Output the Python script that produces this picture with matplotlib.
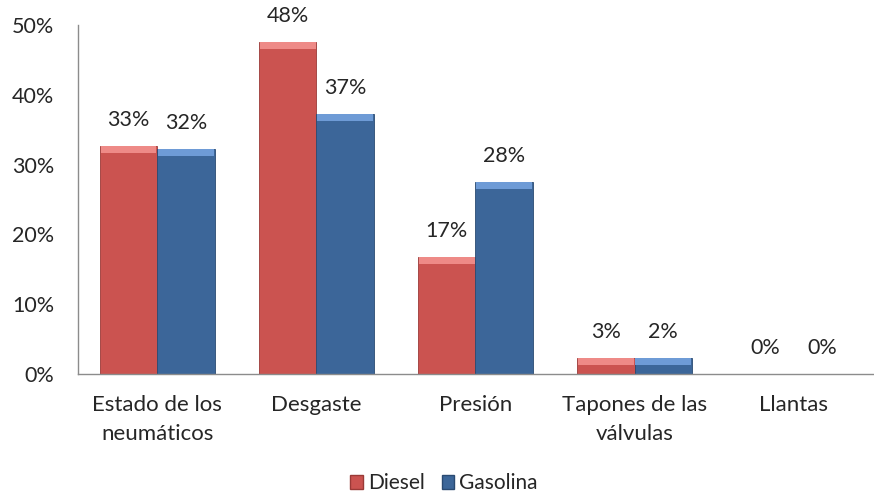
import numpy as np
import matplotlib.pyplot as plt
from matplotlib.patches import Patch

# Data
categories = ["Estado de los\nneumáticos", "Desgaste", "Presión", "Tapones de las\nválvulas", "Llantas"]
diesel = [32.7, 47.5, 16.8, 2.3, 0.0]
gasolina = [32.2, 37.3, 27.5, 2.3, 0.0]
diesel_labels = ["33%", "48%", "17%", "3%", "0%"]
gasolina_labels = ["32%", "37%", "28%", "2%", "0%"]

plt.rcParams['font.family'] = ['Lato', 'DejaVu Sans']
text_col = "#262626"
fs = 15.5

red, red_top, red_edge = "#CB5350", "#EE8A87", "#9A3A37"
blue, blue_top, blue_edge = "#3C6699", "#6E9BD6", "#2A4A72"

fig = plt.figure(figsize=(8.74, 4.97), dpi=100)
ax = fig.add_axes([0.089, 0.2475, 0.91, 0.7025])

x = np.arange(len(categories))
w = 0.36
bevel = 1.0

for vals, off, c, ctop, cedge in [(diesel, -w / 2, red, red_top, red_edge),
                                  (gasolina, w / 2, blue, blue_top, blue_edge)]:
    ax.bar(x + off, vals, w, color=c, edgecolor=cedge, linewidth=0.6, zorder=2)
    for xi, v in zip(x + off, vals):
        if v > 0:
            h = min(bevel, v * 0.45)
            ax.bar(xi, h, w * 0.97, bottom=v - h, color=ctop, linewidth=0, zorder=3)

for xi, v, lab in zip(x - w / 2, diesel, diesel_labels):
    ax.text(xi, v + 3.7, lab, ha="center", va="center", fontsize=fs, color=text_col)
for xi, v, lab in zip(x + w / 2, gasolina, gasolina_labels):
    ax.text(xi, v + 3.7, lab, ha="center", va="center", fontsize=fs, color=text_col)

ax.set_xlim(-0.5, len(categories) - 0.5)
ax.set_ylim(0, 50)
ax.set_yticks(range(0, 51, 10))
ax.set_yticklabels([f"{t}%" for t in range(0, 51, 10)], fontsize=fs, color=text_col)
ax.set_xticks(x)
ax.set_xticklabels(categories, fontsize=16, color=text_col, linespacing=1.6)
ax.tick_params(axis="both", length=0)
ax.tick_params(axis="y", pad=17)
ax.tick_params(axis="x", pad=15)

for s in ["top", "right"]:
    ax.spines[s].set_visible(False)
for s in ["left", "bottom"]:
    ax.spines[s].set_color("#8C8C8C")
    ax.spines[s].set_linewidth(1)

handles = [Patch(facecolor=red, edgecolor=red_edge, label="Diesel"),
           Patch(facecolor=blue, edgecolor=blue_edge, label="Gasolina")]
fig.legend(handles=handles, loc="center", bbox_to_anchor=(0.508, 0.028), ncol=2,
           frameon=False, fontsize=15, handlelength=0.6, handleheight=0.7,
           handletextpad=0.25, columnspacing=0.8, labelcolor=text_col)

fig.savefig("out.png", dpi=100)
